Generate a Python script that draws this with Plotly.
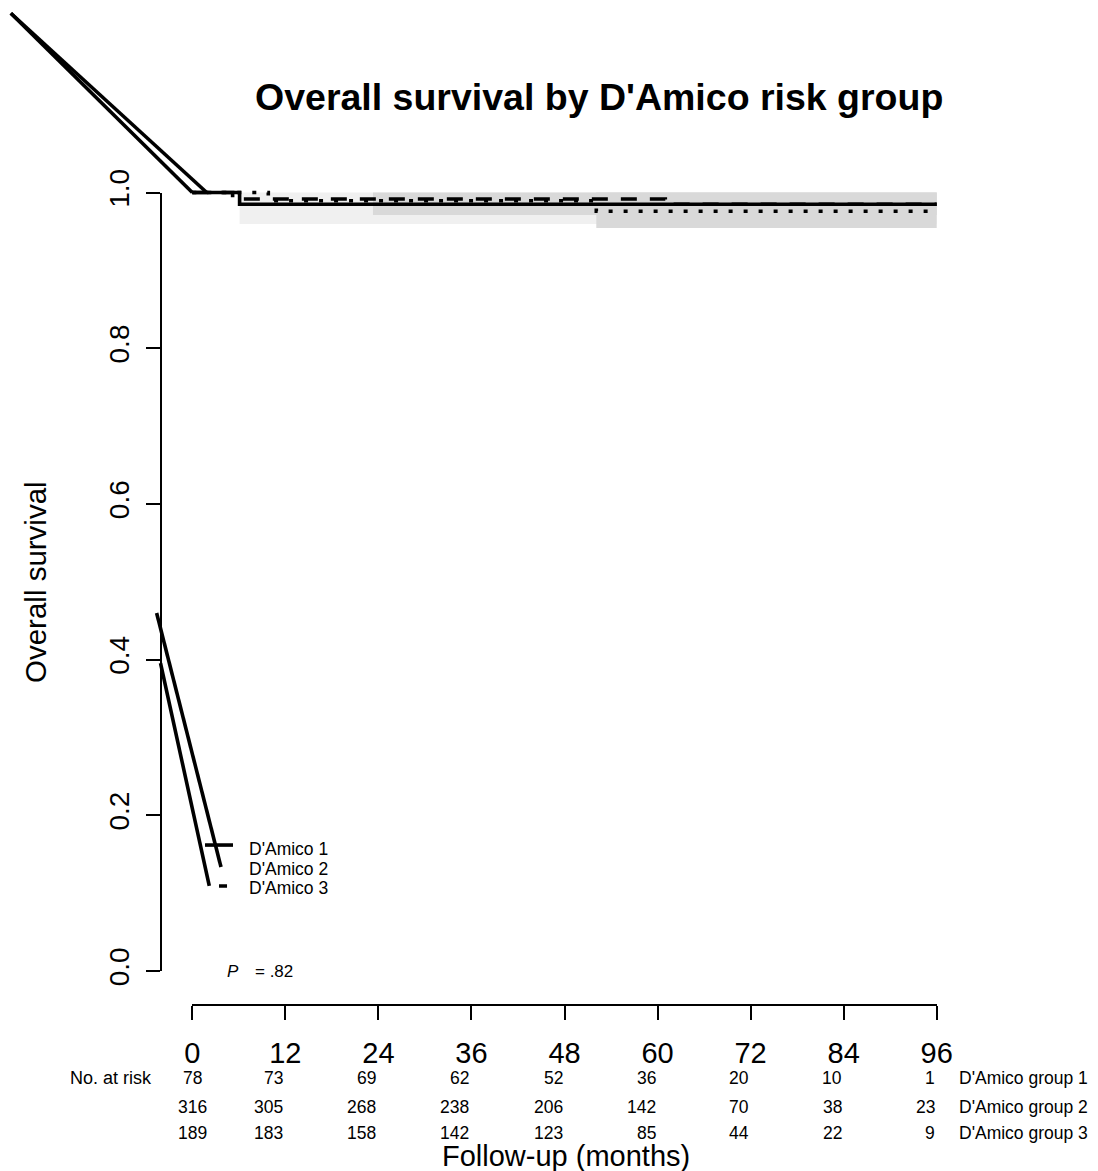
import plotly.graph_objects as go

# ---------------- data ----------------
month_ticks = [0, 12, 24, 36, 48, 60, 72, 84, 96]
surv_ticks = [0.0, 0.2, 0.4, 0.6, 0.8, 1.0]
surv_tick_labels = ["0.0", "0.2", "0.4", "0.6", "0.8", "1.0"]

risk_g1 = [78, 73, 69, 62, 52, 36, 20, 10, 1]
risk_g2 = [316, 305, 268, 238, 206, 142, 70, 38, 23]
risk_g3 = [189, 183, 158, 142, 123, 85, 44, 22, 9]
group_labels = ["D'Amico group 1", "D'Amico group 2", "D'Amico group 3"]
legend_labels = ["D'Amico 1", "D'Amico 2", "D'Amico 3"]

# Kaplan-Meier step curves
g1_time = [0, 6.1, 96]
g1_surv = [1.0, 0.985, 0.985]
g2_time = [0, 5.2, 61, 96]
g2_surv = [1.0, 0.9917, 0.985, 0.985]
g3_time = [0, 9.8, 52.1, 96]
g3_surv = [1.0, 0.9894, 0.976, 0.976]

# confidence bands (start, end, lower, upper)
ci1 = [6.1, 96, 0.9595, 1.0]
ci2 = [23.3, 96, 0.9711, 1.0]
ci3 = [52.1, 96, 0.9543, 1.0]

# stray segments drawn in the original figure (month, survival)
stray_a_x = [-4.6, 3.70]
stray_a_y = [0.4599, 0.1336]
stray_b_x = [-4.1, 2.19]
stray_b_y = [0.3954, 0.1092]
stray_c_x = [-23.4, 0.0]
stray_c_y = [1.2302, 1.0]
stray_d_x = [-23.4, 1.86]
stray_d_y = [1.2302, 1.0]

legend_x = [1.64, 5.25]
legend_line_y = [0.1618, 0.1361, 0.1092]
legend_text_y = [0.1563, 0.1306, 0.1062]
p_value = ".82"

# ---------------- geometry ----------------
W, H = 1098, 1171
OFF = 8                      # page body margin in the browser
X0, X96 = 192.3 - OFF, 936.7 - OFF     # figure pixel of month 0 / 96
Y0, Y1 = 971.0 - OFF, 192.5 - OFF      # figure pixel of survival 0 / 1
kx = (X96 - X0) / 96.0
ky = (Y0 - Y1)
FONT = "Liberation Sans, Arial, sans-serif"


def pxp(sx):
    """screen x pixel -> paper fraction"""
    return (sx - OFF) / W


def pyp(sy):
    """screen y pixel -> paper fraction"""
    return 1 - (sy - OFF) / H


fig = go.Figure()

# invisible anchor trace for the axis subplot
fig.add_trace(go.Scatter(x=[0], y=[0], xaxis="x", yaxis="y", mode="markers",
                         marker=dict(opacity=0), hoverinfo="skip", showlegend=False))


def band(ci, color):
    x0, x1, lo, hi = ci
    fig.add_trace(go.Scatter(x=[x0, x1, x1, x0, x0], y=[lo, lo, hi, hi, lo],
                             xaxis="x2", yaxis="y2", mode="lines", fill="toself",
                             fillcolor=color, line=dict(width=0),
                             hoverinfo="skip", showlegend=False))


band(ci1, "#f0f0f0")
band(ci2, "#d9d9d9")
band(ci3, "#d9d9d9")

LW = 3.6
fig.add_trace(go.Scatter(x=g1_time, y=g1_surv, xaxis="x2", yaxis="y2", mode="lines",
                         line=dict(color="black", width=LW, shape="hv"), showlegend=False))
fig.add_trace(go.Scatter(x=g2_time, y=g2_surv, xaxis="x2", yaxis="y2", mode="lines",
                         line=dict(color="black", width=LW, shape="hv", dash="16px,13px"),
                         showlegend=False))
fig.add_trace(go.Scatter(x=g3_time, y=g3_surv, xaxis="x2", yaxis="y2", mode="lines",
                         line=dict(color="black", width=LW, shape="hv", dash="4px,11px"),
                         showlegend=False))

for sx, sy in [(stray_a_x, stray_a_y), (stray_b_x, stray_b_y),
               (stray_c_x, stray_c_y), (stray_d_x, stray_d_y)]:
    fig.add_trace(go.Scatter(x=sx, y=sy, xaxis="x2", yaxis="y2", mode="lines",
                             line=dict(color="black", width=3.6), showlegend=False))

# legend line samples
fig.add_trace(go.Scatter(x=legend_x, y=[legend_line_y[0]] * 2, xaxis="x2", yaxis="y2",
                         mode="lines", line=dict(color="black", width=LW), showlegend=False))
fig.add_trace(go.Scatter(x=legend_x, y=[legend_line_y[2]] * 2, xaxis="x2", yaxis="y2",
                         mode="lines",
                         line=dict(color="black", width=LW, dash="0px,14px,8px,30px"),
                         showlegend=False))

annotations = []
for lab, ly in zip(legend_labels, legend_text_y):
    annotations.append(dict(x=7.1, y=ly, xref="x2", yref="y2", text=lab,
                            showarrow=False, xanchor="left", yanchor="middle",
                            font=dict(family=FONT, size=17.5, color="black")))

annotations.append(dict(x=4.2, y=0.0, xref="x2", yref="y2", text="<i>P</i>",
                        showarrow=False, xanchor="left", yanchor="middle",
                        font=dict(family=FONT, size=17, color="black")))
annotations.append(dict(x=7.8, y=0.0, xref="x2", yref="y2", text="= " + p_value,
                        showarrow=False, xanchor="left", yanchor="middle",
                        font=dict(family=FONT, size=17, color="black")))

# title & axis titles
annotations.append(dict(x=pxp(599.4), y=pyp(97), xref="paper", yref="paper",
                        text="<b>Overall survival by D'Amico risk group</b>",
                        showarrow=False, xanchor="center", yanchor="middle",
                        font=dict(family=FONT, size=37.5, color="black")))
annotations.append(dict(x=pxp(36), y=pyp(582), xref="paper", yref="paper",
                        text="Overall survival", textangle=-90,
                        showarrow=False, xanchor="center", yanchor="middle",
                        font=dict(family=FONT, size=29.5, color="black")))
annotations.append(dict(x=pxp(565.8), y=pyp(1156), xref="paper", yref="paper",
                        text="Follow-up (months)",
                        showarrow=False, xanchor="center", yanchor="middle",
                        font=dict(family=FONT, size=29, color="black")))

# risk table
row_px = [1078, 1106.5, 1133]
annotations.append(dict(x=pxp(153.5), y=pyp(row_px[0]), xref="paper", yref="paper",
                        text="No. at risk", showarrow=False,
                        xanchor="right", yanchor="middle",
                        font=dict(family=FONT, size=18, color="black")))
for row, counts in enumerate([risk_g1, risk_g2, risk_g3]):
    for t, n in zip(month_ticks, counts):
        annotations.append(dict(x=t, y=pyp(row_px[row]), xref="x2", yref="paper",
                                text=str(n), showarrow=False,
                                xanchor="center" if t == 0 else "right", yanchor="middle",
                                font=dict(family=FONT, size=17.5, color="black")))
    annotations.append(dict(x=pxp(956.7), y=pyp(row_px[row]), xref="paper", yref="paper",
                            text=group_labels[row], showarrow=False,
                            xanchor="left", yanchor="middle",
                            font=dict(family=FONT, size=17.5, color="black")))

fig.update_layout(
    width=W, height=H,
    margin=dict(l=0, r=0, t=0, b=0, autoexpand=False),
    paper_bgcolor="white", plot_bgcolor="rgba(0,0,0,0)",
    showlegend=False,
    annotations=annotations,
    xaxis=dict(domain=[X0 / W, X96 / W], range=[0, 96], anchor="free",
               position=pyp(1005), showline=True, linecolor="black", linewidth=1.5,
               ticks="outside", ticklen=14, tickwidth=1.5, tickcolor="black",
               tickvals=month_ticks, ticktext=[str(m) for m in month_ticks],
               tickfont=dict(family=FONT, size=29, color="black"),
               ticklabelstandoff=8, automargin=False,
               showgrid=False, zeroline=False, fixedrange=True),
    yaxis=dict(domain=[1 - Y0 / H, 1 - Y1 / H], range=[0, 1], anchor="free",
               position=pxp(161), showline=True, linecolor="black", linewidth=1.5,
               ticks="outside", ticklen=14, tickwidth=1.5, tickcolor="black",
               tickvals=surv_ticks, ticktext=surv_tick_labels, tickangle=-90,
               tickfont=dict(family=FONT, size=28, color="black"),
               ticklabelstandoff=6, automargin=False,
               showgrid=False, zeroline=False, fixedrange=True),
    xaxis2=dict(domain=[0, 1], range=[-X0 / kx, (W - X0) / kx], anchor="y2",
                visible=False, fixedrange=True, automargin=False),
    yaxis2=dict(domain=[0, 1], range=[(Y0 - H) / ky, Y0 / ky], anchor="x2",
                visible=False, fixedrange=True, automargin=False),
)

fig.write_html("out.html")
